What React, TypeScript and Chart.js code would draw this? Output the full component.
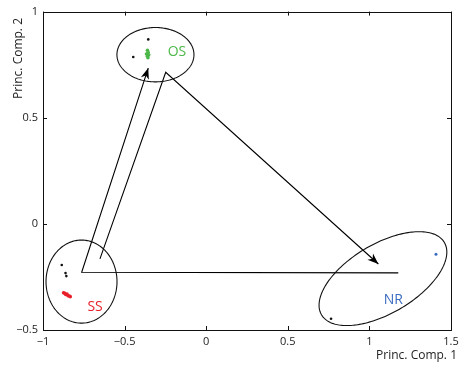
import React, { useEffect, useRef } from "react";
import { Chart, registerables } from "chart.js";

Chart.register(...registerables);

// ---- axes ----
const xMin = -1;
const xMax = 1.5;
const yMin = -0.5;
const yMax = 1;
const tickStep = 0.5;
const xTitle = "Princ. Comp. 1";
const yTitle = "Princ. Comp. 2";

// ---- group SS ----
const ssBlackX = [-0.885, -0.862, -0.857];
const ssBlackY = [-0.194, -0.232, -0.246];
const ssRedX = [-0.874, -0.866, -0.861, -0.853, -0.848, -0.84, -0.833];
const ssRedY = [-0.325, -0.327, -0.333, -0.331, -0.338, -0.34, -0.343];

// ---- group OS ----
const osBlackX = [-0.355, -0.447];
const osBlackY = [0.869, 0.786];
const osGreenX = [-0.36, -0.356, -0.366, -0.352, -0.36, -0.357];
const osGreenY = [0.818, 0.808, 0.8, 0.797, 0.79, 0.783];

// ---- group NR ----
const nrBlueX = [1.408];
const nrBlueY = [-0.143];
const nrBlackX = [0.765];
const nrBlackY = [-0.447];

// ---- arrows (paths ending in an arrowhead) ----
const pathToNRX = [-0.651, -0.248, 1.055];
const pathToNRY = [-0.165, 0.714, -0.189];
const pathToOSX = [1.177, -0.763, -0.355];
const pathToOSY = [-0.231, -0.228, 0.734];

// ---- ellipses: centre and two conjugate semi-axis vectors (data units) ----
const ellipseCx = [-0.764, -0.311, 1.083];
const ellipseCy = [-0.272, 0.797, -0.258];
const ellipseUx = [0.2175, 0.236, 0.3756];
const ellipseUy = [0, 0, 0.1714];
const ellipseVx = [0, 0, 0.1103];
const ellipseVy = [0.1956, 0.128, -0.1397];

// ---- group labels ----
const groupNames = ["SS", "OS", "NR"];
const groupLabelX = [-0.681, -0.179, 1.146];
const groupLabelY = [-0.393, 0.809, -0.36];
const groupColors = ["#e8202a", "#4cb849", "#3a6cc0"];

const FONT = "'Open Sans', 'DejaVu Sans', sans-serif";

const zip = (xs: number[], ys: number[]) => xs.map((x, i) => ({ x, y: ys[i] }));
const fmt = (v: number) => (v < 0 ? "\u2212" + String(Math.abs(v)) : String(v));

const overlayPlugin = {
  id: "overlay",
  afterDatasetsDraw(chart: any) {
    const { ctx, chartArea, scales } = chart;
    const xs = scales.x;
    const ys = scales.y;
    ctx.save();

    // ellipses
    ctx.strokeStyle = "#111";
    ctx.lineWidth = 1.1;
    for (let i = 0; i < ellipseCx.length; i++) {
      ctx.beginPath();
      const n = 200;
      for (let k = 0; k <= n; k++) {
        const t = (k / n) * Math.PI * 2;
        const dx = ellipseUx[i] * Math.cos(t) + ellipseVx[i] * Math.sin(t);
        const dy = ellipseUy[i] * Math.cos(t) + ellipseVy[i] * Math.sin(t);
        const px = xs.getPixelForValue(ellipseCx[i] + dx);
        const py = ys.getPixelForValue(ellipseCy[i] + dy);
        if (k === 0) ctx.moveTo(px, py);
        else ctx.lineTo(px, py);
      }
      ctx.closePath();
      ctx.stroke();
    }

    // arrowheads
    chart.data.datasets.forEach((ds: any, i: number) => {
      if (!ds.arrow) return;
      const pts = chart.getDatasetMeta(i).data;
      const a = pts[pts.length - 2];
      const b = pts[pts.length - 1];
      const ang = Math.atan2(b.y - a.y, b.x - a.x);
      const L = 11;
      const W = 4.2;
      const ca = Math.cos(ang);
      const sa = Math.sin(ang);
      const bx = b.x - L * ca;
      const by = b.y - L * sa;
      const ix = b.x - 0.7 * L * ca;
      const iy = b.y - 0.7 * L * sa;
      ctx.fillStyle = "#000";
      ctx.beginPath();
      ctx.moveTo(b.x, b.y);
      ctx.lineTo(bx - W * sa, by + W * ca);
      ctx.lineTo(ix, iy);
      ctx.lineTo(bx + W * sa, by - W * ca);
      ctx.closePath();
      ctx.fill();
    });

    // group labels
    ctx.font = `14px ${FONT}`;
    ctx.textAlign = "center";
    ctx.textBaseline = "middle";
    groupNames.forEach((name, i) => {
      ctx.fillStyle = groupColors[i];
      ctx.fillText(name, xs.getPixelForValue(groupLabelX[i]), ys.getPixelForValue(groupLabelY[i]));
    });

    // frame
    const { left, right, top, bottom } = chartArea;
    ctx.strokeStyle = "#111";
    ctx.lineWidth = 1;
    ctx.strokeRect(Math.round(left) + 0.5, Math.round(top) + 0.5, Math.round(right - left), Math.round(bottom - top));

    // inward ticks on all four sides
    const tl = 4;
    ctx.beginPath();
    xs.ticks.forEach((t: any) => {
      const px = Math.round(xs.getPixelForValue(t.value)) + 0.5;
      ctx.moveTo(px, bottom);
      ctx.lineTo(px, bottom - tl);
      ctx.moveTo(px, top);
      ctx.lineTo(px, top + tl);
    });
    ys.ticks.forEach((t: any) => {
      const py = Math.round(ys.getPixelForValue(t.value)) + 0.5;
      ctx.moveTo(left, py);
      ctx.lineTo(left + tl, py);
      ctx.moveTo(right, py);
      ctx.lineTo(right - tl, py);
    });
    ctx.stroke();

    // axis titles
    ctx.fillStyle = "#222";
    ctx.font = `12px ${FONT}`;
    ctx.textBaseline = "alphabetic";
    ctx.textAlign = "right";
    ctx.fillText(xTitle, 457, 359);
    ctx.save();
    ctx.translate(22, 18);
    ctx.rotate(-Math.PI / 2);
    ctx.textAlign = "right";
    ctx.fillText(yTitle, 0, 0);
    ctx.restore();

    ctx.restore();
  },
};

export default function App() {
  const ref = useRef<HTMLCanvasElement | null>(null);

  useEffect(() => {
    if (!ref.current) return;
    const dot = (data: any[], color: string, r: number) => ({
      type: "scatter",
      data,
      pointRadius: r,
      pointBackgroundColor: color,
      pointBorderWidth: 0,
      showLine: false,
    });
    const path = (data: any[]) => ({
      type: "line",
      data,
      borderColor: "#000",
      borderWidth: 1.1,
      pointRadius: 0,
      fill: false,
      tension: 0,
      arrow: true,
    });
    const chart = new Chart(ref.current, {
      type: "scatter",
      data: {
        datasets: [
          path(zip(pathToNRX, pathToNRY)),
          path(zip(pathToOSX, pathToOSY)),
          dot(zip(ssBlackX, ssBlackY), "#111", 1.3),
          dot(zip(ssRedX, ssRedY), groupColors[0], 1.8),
          dot(zip(osBlackX, osBlackY), "#111", 1.3),
          dot(zip(osGreenX, osGreenY), groupColors[1], 1.8),
          dot(zip(nrBlueX, nrBlueY), groupColors[2], 1.5),
          dot(zip(nrBlackX, nrBlackY), "#111", 1.3),
        ] as any,
      },
      options: {
        responsive: false,
        animation: false,
        devicePixelRatio: 1,
        layout: { padding: { left: 0, top: 8, right: 15, bottom: 0 } },
        plugins: { legend: { display: false }, tooltip: { enabled: false } },
        scales: {
          x: {
            type: "linear",
            min: xMin,
            max: xMax,
            grid: { display: false, drawTicks: false },
            border: { display: false },
            ticks: {
              stepSize: tickStep,
              padding: 5,
              color: "#222",
              font: { family: FONT, size: 11 },
              maxRotation: 0,
              callback: (v: any) => fmt(Number(v)),
            },
            afterFit: (s: any) => {
              s.height = 39;
            },
          },
          y: {
            type: "linear",
            min: yMin,
            max: yMax,
            grid: { display: false, drawTicks: false },
            border: { display: false },
            ticks: {
              stepSize: tickStep,
              padding: 5,
              color: "#222",
              font: { family: FONT, size: 11 },
              callback: (v: any) => fmt(Number(v)),
            },
            afterFit: (s: any) => {
              s.width = 43;
            },
          },
        },
      } as any,
      plugins: [overlayPlugin],
    });
    return () => chart.destroy();
  }, []);

  return (
    <div style={{ position: "fixed", left: 0, top: 0, width: 466, height: 369, background: "#fff" }}>
      <canvas ref={ref} width={466} height={369} style={{ width: 466, height: 369, display: "block" }} />
    </div>
  );
}
